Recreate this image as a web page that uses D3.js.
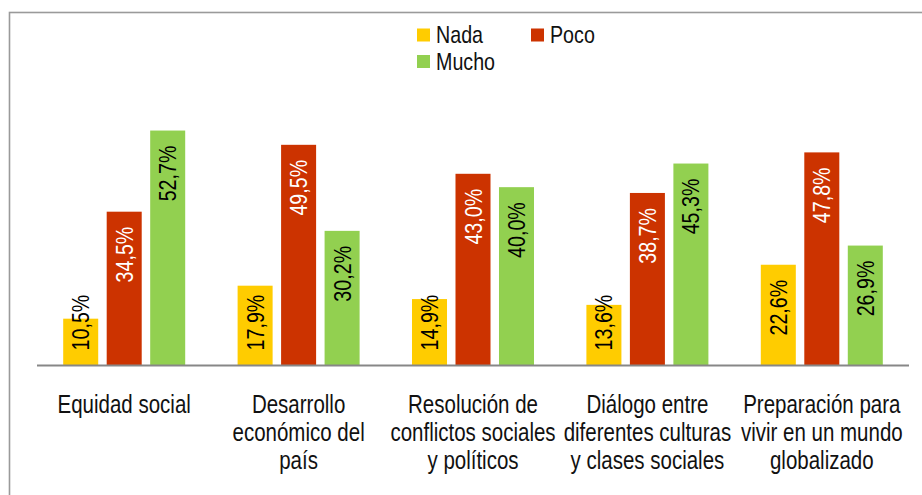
<!DOCTYPE html>
<html>
<head>
<meta charset="utf-8">
<script src="https://cdn.jsdelivr.net/npm/d3@7"></script>
<style>
html,body{margin:0;padding:0;background:#fff;}
svg{display:block;}
text{font-family:"Liberation Sans",Arial,sans-serif;}
</style>
</head>
<body>
<svg id="chart" width="922" height="495"></svg>
<script>
const categories = [
  ["Equidad social"],
  ["Desarrollo","económico del","país"],
  ["Resolución de","conflictos sociales","y políticos"],
  ["Diálogo entre","diferentes culturas","y clases sociales"],
  ["Preparación para","vivir en un mundo","globalizado"]
];
const seriesNames = ["Nada","Poco","Mucho"];
const nada  = [10.5, 17.9, 14.9, 13.6, 22.6];
const poco  = [34.5, 49.5, 43.0, 38.7, 47.8];
const mucho = [52.7, 30.2, 40.0, 45.3, 26.9];
const colors = ["#FFCC00","#CC3300","#92D050"];
const labelColors = ["#000","#fff","#000"];
const yDomain = [0, 60];

const seriesValues = [nada, poco, mucho];
const svg = d3.select("#chart");
const NARROW = 0.82;

// border
svg.append("rect").attr("x",9.5).attr("y",12.5).attr("width",940).attr("height",520)
  .attr("fill","none").attr("stroke","#9a9a9a").attr("stroke-width",1.6);

const plotLeft = 37, plotRight = 909, plotBase = 365.5, plotTop = 98;
const catIdx = categories.map((c,i)=>i);
const x = d3.scaleBand().domain(catIdx).range([plotLeft,plotRight]).padding(0);
const groupW = 122;
const xs = d3.scaleBand().domain(seriesNames).range([0,groupW]).paddingInner(0.195).paddingOuter(0);
const y = d3.scaleLinear().domain(yDomain).range([plotBase, plotTop]);

const fmt = v => d3.format(".1f")(v).replace(".", ",") + "%";

const data = [];
catIdx.forEach(i => seriesNames.forEach((s,j) => data.push({i, s, j, v: seriesValues[j][i]})));

const gx = d => x(d.i) + x.bandwidth()/2 - groupW/2 + xs(d.s);

svg.append("g").selectAll("rect").data(data).join("rect")
  .attr("x", gx).attr("y", d => y(d.v))
  .attr("width", xs.bandwidth()).attr("height", d => plotBase - y(d.v))
  .attr("fill", d => colors[d.j]);

// baseline
svg.append("line").attr("x1",plotLeft).attr("x2",plotRight).attr("y1",plotBase).attr("y2",plotBase)
  .attr("stroke","#878787").attr("stroke-width",2);

// value labels
const lbl = svg.append("g").selectAll("text").data(data).join("text")
  .attr("font-size",24)
  .attr("fill", d => labelColors[d.j])
  .attr("text-anchor","end")
  .text(d => fmt(d.v));
lbl.each(function(d){
  const len = this.getComputedTextLength() * NARROW;
  let endY = y(d.v) + 15;
  if (endY + len > plotBase - 15) endY = plotBase - 15 - len;
  const cx = gx(d) + xs.bandwidth()/2 + 8.5;
  d3.select(this).attr("transform", `translate(${cx},${endY}) rotate(-90) scale(${NARROW},1)`);
});

// category labels
const cl = svg.append("g").selectAll("g").data(catIdx).join("g")
  .attr("transform", i => `translate(${x(i) + x.bandwidth()/2},412.5) scale(${NARROW},1)`);
cl.append("text").attr("font-size",25).attr("fill","#111").attr("text-anchor","middle")
  .each(function(i){
    d3.select(this).selectAll("tspan").data(categories[i]).join("tspan")
      .attr("x", 0).attr("y",(d,k)=> k*28.2).text(d=>d);
  });

// legend
const legendPos = [[417,28.5],[531,28.5],[417,55]];
const lg = svg.append("g").selectAll("g").data(seriesNames).join("g")
  .attr("transform",(d,j)=>`translate(${legendPos[j][0]},${legendPos[j][1]})`);
lg.append("rect").attr("width",13).attr("height",13).attr("fill",(d,j)=>colors[j]);
lg.append("text").attr("transform",`translate(19,14.5) scale(${NARROW},1)`)
  .attr("font-size",24).attr("fill","#111").text(d=>d);
</script>
</body>
</html>
